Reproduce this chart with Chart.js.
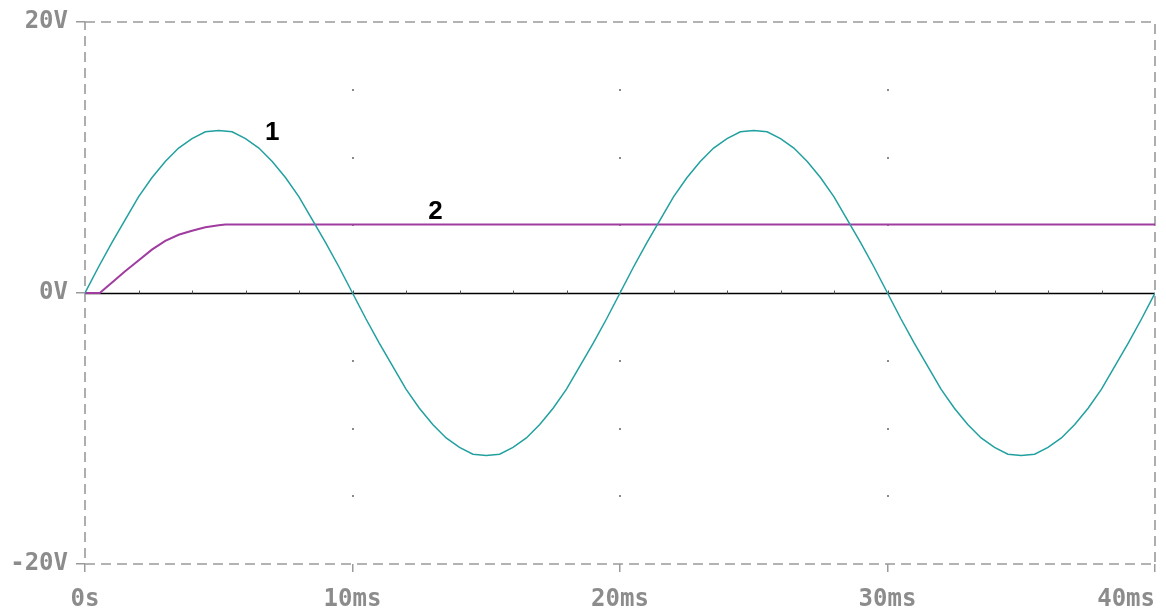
<!DOCTYPE html>
<html>
<head>
<meta charset="utf-8">
<script src="https://cdn.jsdelivr.net/npm/chart.js@4"></script>
<style>
  html, body { margin: 0; padding: 0; background: #ffffff; }
  #c { display: block; }
</style>
</head>
<body>
<canvas id="c" width="1166" height="612"></canvas>
<script>
// ---- data ----
const xTickLabels = ['0s', '10ms', '20ms', '30ms', '40ms'];
const yTickLabels = ['-20V', '0V', '20V'];

// trace 1: sampled every 0.5 ms from 0 to 40 ms (volts)
const trace1V = [
  0, 1.9, 3.7, 5.4, 7.1, 8.5, 9.7, 10.7, 11.4, 11.9, 12.0,
  11.9, 11.4, 10.7, 9.7, 8.5, 7.1, 5.4, 3.7, 1.9, 0,
  -1.9, -3.7, -5.4, -7.1, -8.5, -9.7, -10.7, -11.4, -11.9, -12.0,
  -11.9, -11.4, -10.7, -9.7, -8.5, -7.1, -5.4, -3.7, -1.9, 0,
  1.9, 3.7, 5.4, 7.1, 8.5, 9.7, 10.7, 11.4, 11.9, 12.0,
  11.9, 11.4, 10.7, 9.7, 8.5, 7.1, 5.4, 3.7, 1.9, 0,
  -1.9, -3.7, -5.4, -7.1, -8.5, -9.7, -10.7, -11.4, -11.9, -12.0,
  -11.9, -11.4, -10.7, -9.7, -8.5, -7.1, -5.4, -3.7, -1.9, 0
];
const trace1Step = 0.5; // ms between samples

// trace 2
const trace2T = [0, 0.55, 1.0, 1.5, 2.0, 2.5, 3.0, 3.5, 4.0, 4.5, 5.0, 5.25, 40];
const trace2V = [0, 0, 0.75, 1.6, 2.4, 3.2, 3.85, 4.3, 4.6, 4.85, 5.0, 5.05, 5.05];

// trace labels (data coordinates)
const traceLabels = ['1', '2'];
const traceLabelT = [7.0, 13.1];
const traceLabelV = [11.8, 6.0];

// ---- build ----
const trace1Pts = trace1V.map((v, i) => ({ x: i * trace1Step, y: v }));
const trace2Pts = trace2T.map((t, i) => ({ x: t, y: trace2V[i] }));

const GRAY = '#9a9a9a';
const LABEL_FONT = { family: '"DejaVu Sans Mono", "Liberation Mono", monospace', size: 24, weight: 'bold' };

const decor = {
  id: 'decor',
  beforeDatasetsDraw(chart) {
    const { ctx, chartArea: a, scales: { x, y } } = chart;
    ctx.save();
    // dotted grid at 10 ms x 5 V
    ctx.fillStyle = '#8a8a8a';
    for (let t = 10; t < 40; t += 10) {
      for (let v = -15; v <= 15; v += 5) {
        if (v === 0) continue;
        ctx.fillRect(Math.round(x.getPixelForValue(t)) - 1, Math.round(y.getPixelForValue(v)) - 1, 2, 2);
      }
    }
    // zero line
    const y0 = Math.round(y.getPixelForValue(0)) + 0.5;
    ctx.strokeStyle = '#000000';
    ctx.lineWidth = 1.5;
    ctx.beginPath();
    ctx.moveTo(a.left, y0);
    ctx.lineTo(a.right, y0);
    ctx.stroke();
    // minor ticks on zero line every 2 ms
    ctx.strokeStyle = '#555555';
    ctx.lineWidth = 1;
    for (let t = 2; t < 40; t += 2) {
      const px = Math.round(x.getPixelForValue(t)) + 0.5;
      ctx.beginPath();
      ctx.moveTo(px, y0 - 3);
      ctx.lineTo(px, y0);
      ctx.stroke();
    }
    // dashed border
    ctx.strokeStyle = GRAY;
    ctx.lineWidth = 1.6;
    ctx.setLineDash([10, 6]);
    ctx.strokeRect(a.left, a.top, a.right - a.left, a.bottom - a.top);
    ctx.setLineDash([]);
    ctx.restore();
  },
  afterDatasetsDraw(chart) {
    const { ctx, scales: { x, y } } = chart;
    ctx.save();
    ctx.fillStyle = '#000000';
    ctx.font = 'bold 26px "Liberation Sans", Arial, sans-serif';
    ctx.textAlign = 'center';
    ctx.textBaseline = 'middle';
    traceLabels.forEach((s, i) => {
      ctx.fillText(s, x.getPixelForValue(traceLabelT[i]), y.getPixelForValue(traceLabelV[i]));
    });
    ctx.restore();
  }
};

new Chart(document.getElementById('c'), {
  type: 'line',
  data: {
    datasets: [
      { label: '1', data: trace1Pts, borderColor: '#22a0a0', borderWidth: 1.5, pointRadius: 0, tension: 0, fill: false },
      { label: '2', data: trace2Pts, borderColor: '#a03ca0', borderWidth: 2, pointRadius: 0, tension: 0, fill: false }
    ]
  },
  options: {
    responsive: false,
    devicePixelRatio: 1,
    animation: false,
    layout: { padding: { top: 22, right: 11, left: 0, bottom: 0 } },
    plugins: { legend: { display: false }, tooltip: { enabled: false } },
    scales: {
      x: {
        type: 'linear', min: 0, max: 40,
        border: { display: false },
        grid: { display: true, drawOnChartArea: false, drawTicks: true, tickLength: 8, color: GRAY, lineWidth: 1.5 },
        ticks: {
          stepSize: 10, autoSkip: false, maxRotation: 0, padding: 13,
          color: '#8c8c8c', font: LABEL_FONT,
          callback: (v, i) => {
            const s = xTickLabels[i] || '';
            return i === xTickLabels.length - 1 ? s + ' '.repeat(s.length) : s;
          }
        },
        afterFit: (s) => { s.height = 48; s.paddingLeft = 0; s.paddingRight = 0; }
      },
      y: {
        type: 'linear', min: -20, max: 20,
        border: { display: false },
        grid: { display: true, drawOnChartArea: false, drawTicks: true, tickLength: 9, color: GRAY, lineWidth: 1.5 },
        ticks: {
          stepSize: 20, padding: 8,
          color: '#8c8c8c', font: LABEL_FONT,
          callback: (v, i) => yTickLabels[i] || ''
        },
        afterFit: (s) => { s.width = 85; s.paddingTop = 0; s.paddingBottom = 0; }
      }
    }
  },
  plugins: [decor]
});
</script>
</body>
</html>
